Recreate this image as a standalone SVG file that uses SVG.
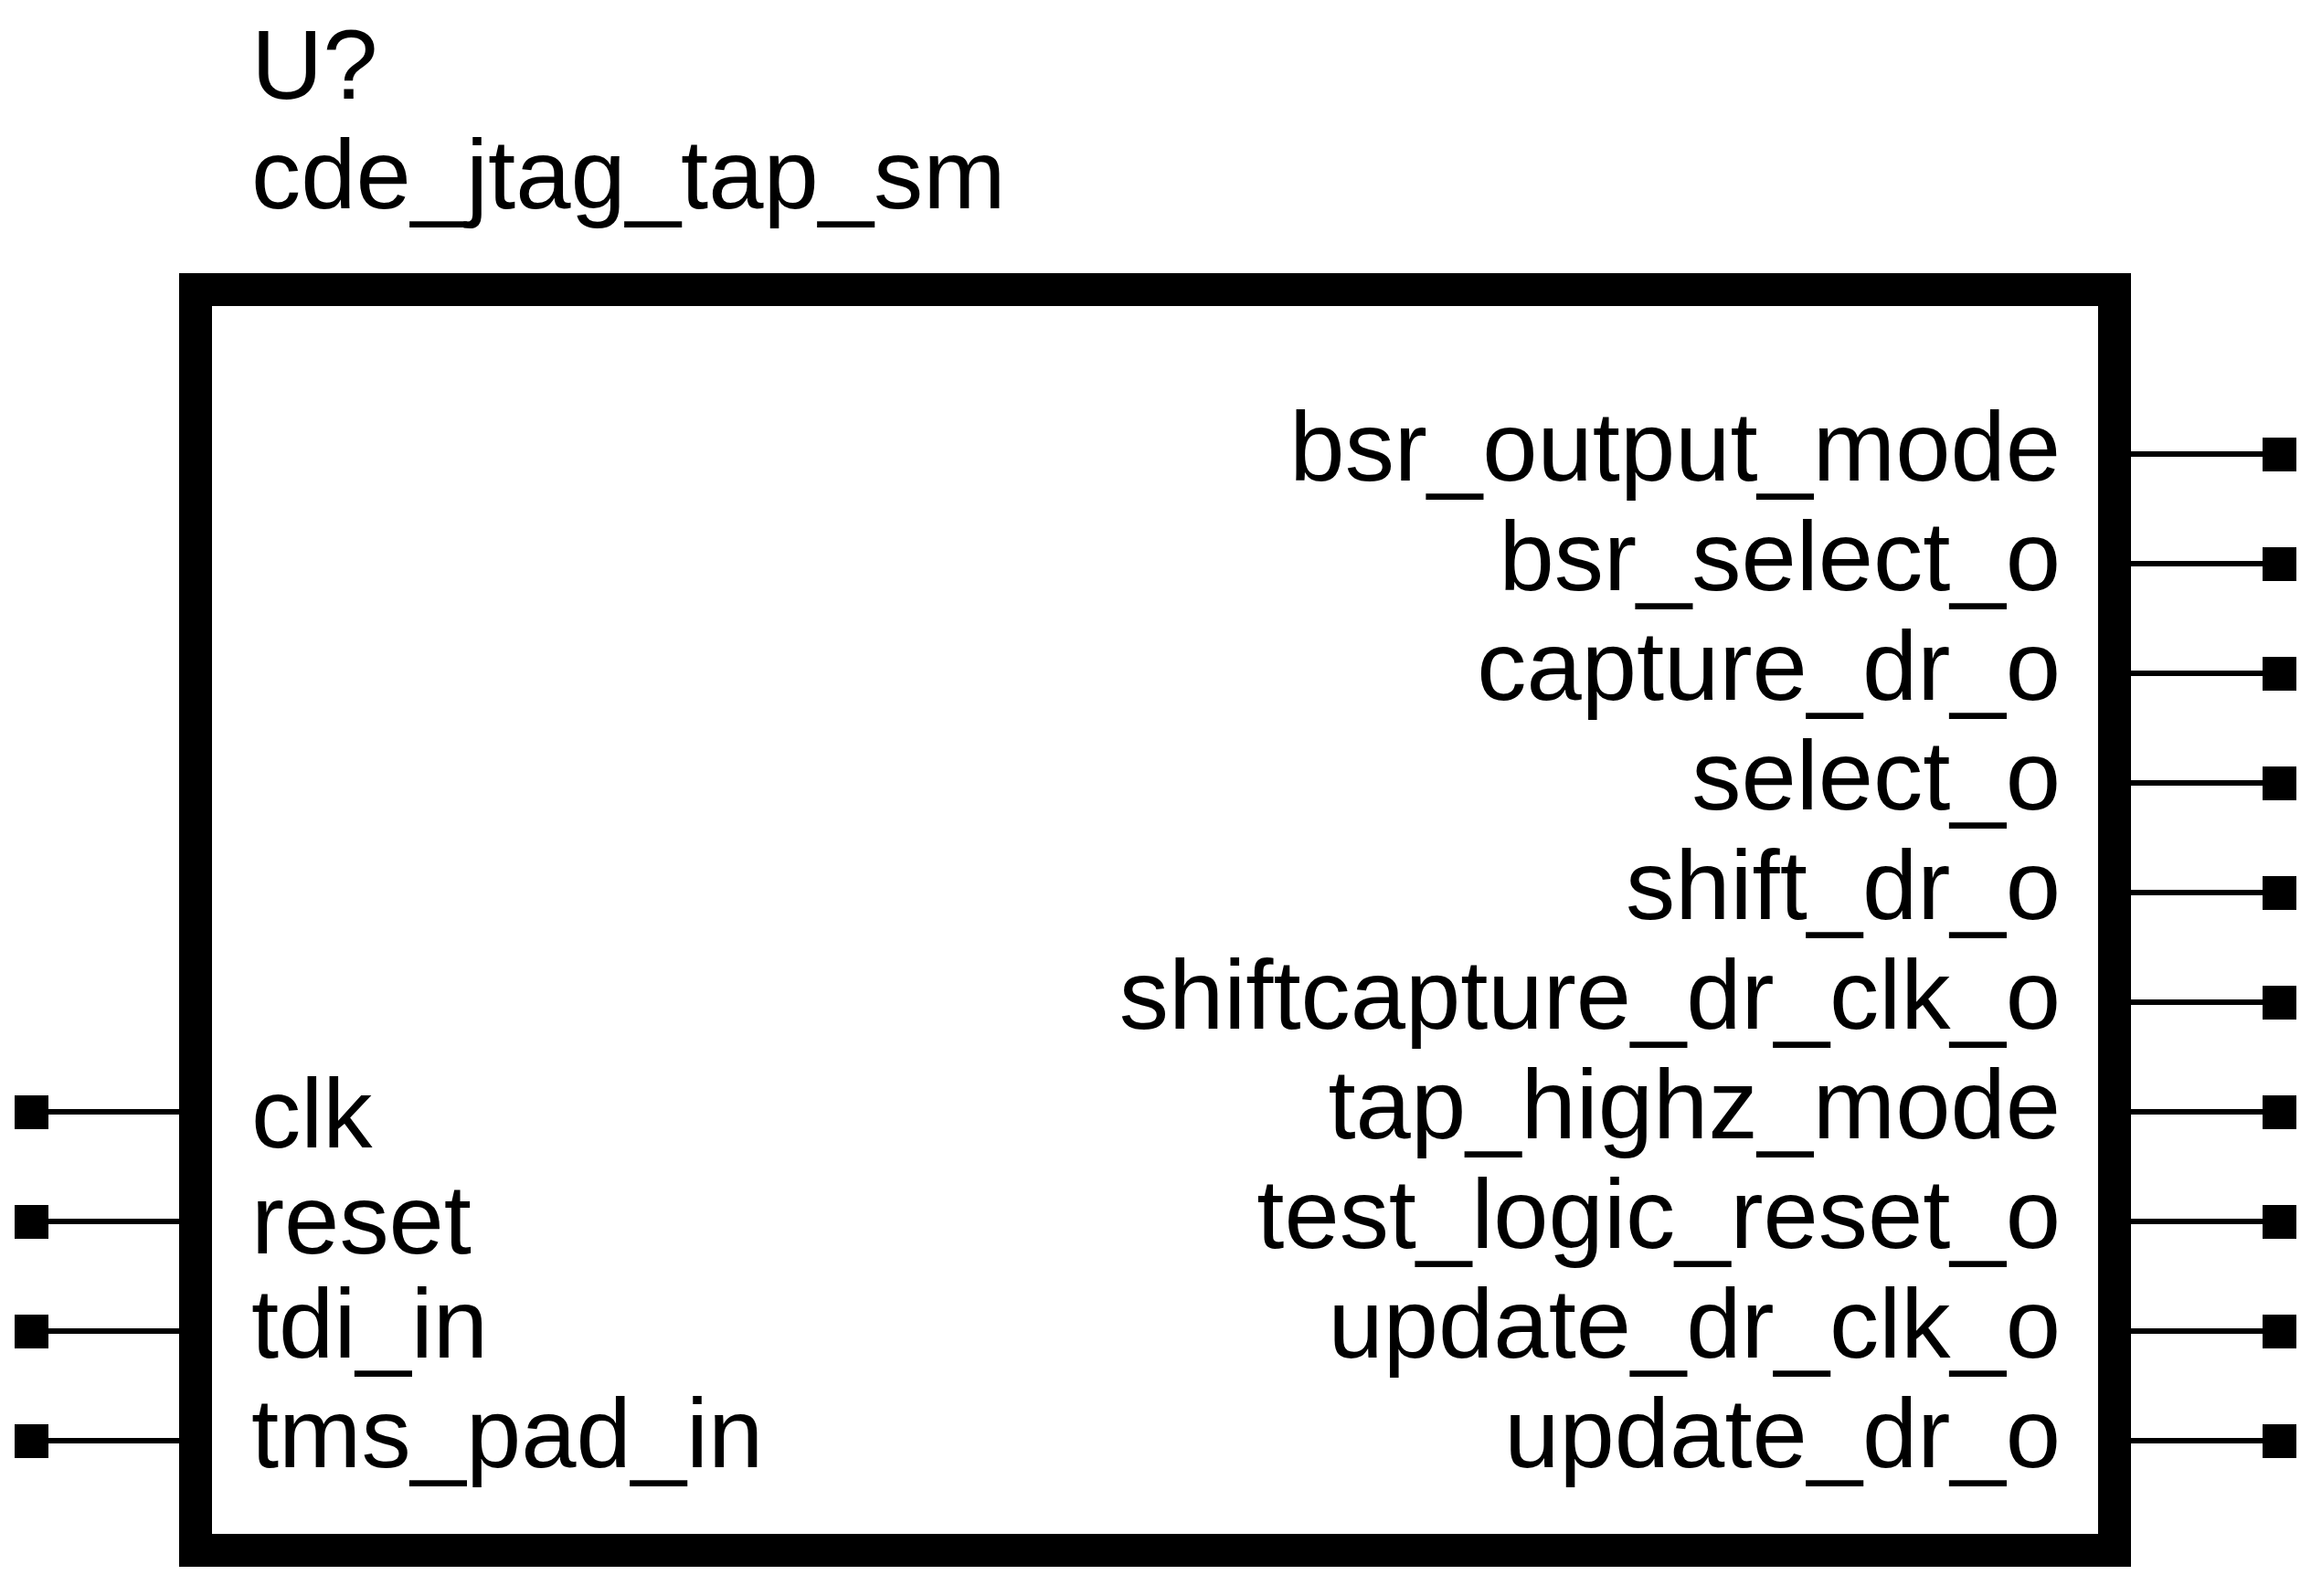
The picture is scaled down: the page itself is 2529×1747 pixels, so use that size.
<svg xmlns="http://www.w3.org/2000/svg" width="2529" height="1747" viewBox="0 0 2529 1747">
<defs><style>
text{font-family:"Liberation Sans",Arial,sans-serif;font-size:108.4px;fill:#000}
.r{text-anchor:end}
.w{stroke:#000;stroke-width:6;fill:none}
.p{fill:#000}
.b{fill:#fff;stroke:#000;stroke-width:36}
</style></defs>
<rect width="2529" height="1747" fill="#fff"/>
<g id="connectors">
<path class="w" d="M53 1217H196M53 1337H196M53 1457H196M53 1577H196"/>
<path class="w" d="M2332 497H2476M2332 617H2476M2332 737H2476M2332 857H2476M2332 977H2476M2332 1097H2476M2332 1217H2476M2332 1337H2476M2332 1457H2476M2332 1577H2476"/>
</g>
<g id="block"><rect class="b" x="214" y="317" width="2100" height="1380"/>
<text x="275" y="108">U?</text><text x="275" y="228">cde_jtag_tap_sm</text></g>
<g id="pin-clk"><rect class="p" x="16" y="1199" width="37" height="37"/><text x="275" y="1256">clk</text></g>
<g id="pin-reset"><rect class="p" x="16" y="1319" width="37" height="37"/><text x="275" y="1372">reset</text></g>
<g id="pin-tdi_in"><rect class="p" x="16" y="1439" width="37" height="37"/><text x="275" y="1486">tdi_in</text></g>
<g id="pin-tms_pad_in"><rect class="p" x="16" y="1559" width="37" height="37"/><text x="275" y="1606">tms_pad_in</text></g>
<g id="pin-bsr_output_mode"><rect class="p" x="2476" y="479" width="37" height="37"/><text class="r" x="2255" y="526">bsr_output_mode</text></g>
<g id="pin-bsr_select_o"><rect class="p" x="2476" y="599" width="37" height="37"/><text class="r" x="2255" y="646">bsr_select_o</text></g>
<g id="pin-capture_dr_o"><rect class="p" x="2476" y="719" width="37" height="37"/><text class="r" x="2255" y="766">capture_dr_o</text></g>
<g id="pin-select_o"><rect class="p" x="2476" y="839" width="37" height="37"/><text class="r" x="2255" y="886">select_o</text></g>
<g id="pin-shift_dr_o"><rect class="p" x="2476" y="959" width="37" height="37"/><text class="r" x="2255" y="1006">shift_dr_o</text></g>
<g id="pin-shiftcapture_dr_clk_o"><rect class="p" x="2476" y="1079" width="37" height="37"/><text class="r" x="2255" y="1126">shiftcapture_dr_clk_o</text></g>
<g id="pin-tap_highz_mode"><rect class="p" x="2476" y="1199" width="37" height="37"/><text class="r" x="2255" y="1246">tap_highz_mode</text></g>
<g id="pin-test_logic_reset_o"><rect class="p" x="2476" y="1319" width="37" height="37"/><text class="r" x="2255" y="1366">test_logic_reset_o</text></g>
<g id="pin-update_dr_clk_o"><rect class="p" x="2476" y="1439" width="37" height="37"/><text class="r" x="2255" y="1486">update_dr_clk_o</text></g>
<g id="pin-update_dr_o"><rect class="p" x="2476" y="1559" width="37" height="37"/><text class="r" x="2255" y="1606">update_dr_o</text></g>
</svg>
